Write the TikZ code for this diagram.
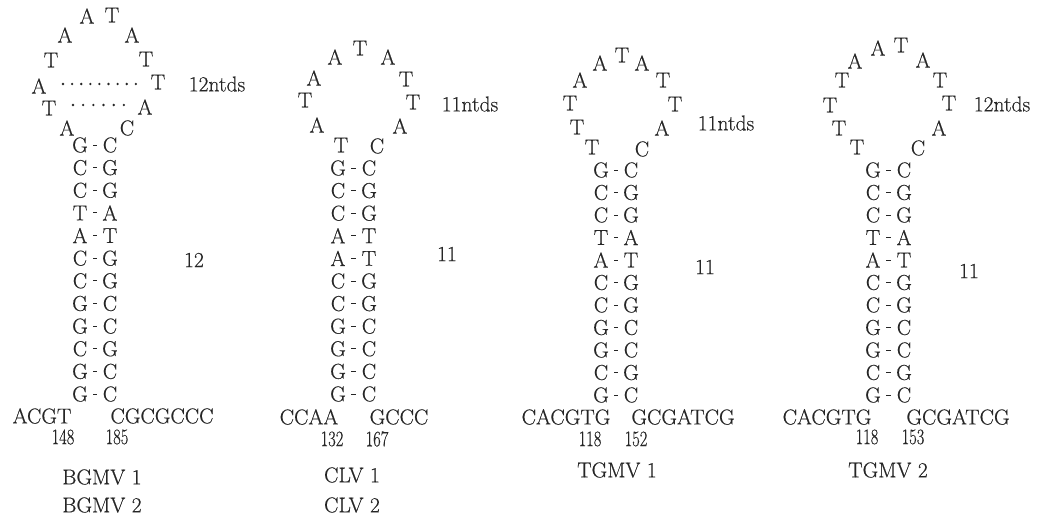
\documentclass[tikz,border=0pt]{standalone}
\usepackage{fontspec}
\newfontfamily\dnafont{Latin Modern Roman}[FakeBold=0.5]
\usetikzlibrary{calc}
\definecolor{txt}{HTML}{262626}
\begin{document}
\begin{tikzpicture}[x=1pt,y=-1pt,
  base/.style={inner sep=0pt, text=txt, font=\dnafont\fontsize{21.5}{24}\selectfont},
  numlbl/.style={inner sep=0pt, text=txt, font=\dnafont\fontsize{22}{24}\selectfont},
  pairdash/.style={draw=txt, line width=1pt, shorten <=13pt, shorten >=13pt},
  dotpair/.style={draw=txt, line width=2.6pt, line cap=round}]
\useasboundingbox (0,0) rectangle (1047,519);

% ---------------- BGMV ----------------
\foreach \x/\y/\t [count=\i] in {87/16/A, 112/15/T, 65/35/A, 132/35/A, 51/60/T, 146/59/T,
   39/86/A, 158/82/T, 49/108/T, 145/107/A, 67/128/A, 127/128/C}
  \node[base] (bL\i) at (\x,\y) {\t};
\draw[dotpair, dash pattern=on 0pt off 9.1pt] ($(bL7.center)+(24,-2)$) -- ($(bL8.center)+(-21.9,2)$);
\draw[dotpair, dash pattern=on 0pt off 10.18pt] ($(bL9.center)+(24,-3)$) -- ($(bL10.center)+(-20.9,-2)$);
\node[base] (bloop) at (217,84) {12ntds};
\foreach \l/\r [count=\i from 0] in {G/C,C/G,C/G,T/A,A/T,C/G,C/G,G/C,G/C,C/G,G/C,G/C}{
  \node[base] (bsl\i) at (80,{145+22.64*\i}) {\l};
  \node[base] (bsr\i) at (110,{145+22.64*\i}) {\r};
  \draw[pairdash] (bsl\i.center) -- (bsr\i.center);
}
\node[base] (bstem) at (194,260) {12};
\node[base] (b5) at (42,416) {ACGT};
\node[base] (b3) at (162,416) {CGCGCCC};
\node[numlbl] (bn1) at (63,437) {\scalebox{0.75}[1]{148}};
\node[numlbl] (bn2) at (117,437) {\scalebox{0.75}[1]{185}};
\node[base] (bname1) at (102,477) {BGMV 1};
\node[base] (bname2) at (102,505) {BGMV 2};

% ---------------- CLV ----------------
\foreach \x/\y/\t [count=\i] in {335/57/A, 360/48/T, 388/57/A, 314/78/A, 406/79/T,
   305/100/T, 413/102/T, 317/125/A, 400/126/A, 341/145/T, 377/146/C}
  \node[base] (cL\i) at (\x,\y) {\t};
\node[base] (cloop) at (470,104) {11ntds};
\foreach \l/\r [count=\i from 0] in {G/C,C/G,C/G,A/T,A/T,C/G,C/G,G/C,G/C,G/C,G/C}{
  \node[base] (csl\i) at (338,{168+22.6*\i}) {\l};
  \node[base] (csr\i) at (369,{168+22.6*\i}) {\r};
  \draw[pairdash] (csl\i.center) -- (csr\i.center);
}
\node[base] (cstem) at (447,254) {11};
\node[base] (c5) at (309,417) {CCAA};
\node[base] (c3) at (399,417) {GCCC};
\node[numlbl] (cn1) at (332,439) {\scalebox{0.75}[1]{132}};
\node[numlbl] (cn2) at (377,439) {\scalebox{0.75}[1]{167}};
\node[base] (cname1) at (352,475) {CLV 1};
\node[base] (cname2) at (352,505) {CLV 2};

% ---------------- TGMV 1 ----------------
\foreach \x/\y/\t [count=\i] in {600/63/A, 622/55/T, 642/63/A, 580/80/A, 663/80/T,
   570/103/T, 675/104/T, 577/127/T, 662/128/A, 592/147/T, 642/149/C}
  \node[base] (tL\i) at (\x,\y) {\t};
\node[base] (tloop) at (726,123) {11ntds};
\foreach \l/\r [count=\i from 0] in {G/C,C/G,C/G,T/A,A/T,C/G,C/G,G/C,G/C,C/G,G/C}{
  \node[base] (tsl\i) at (601,{170+22.5*\i}) {\l};
  \node[base] (tsr\i) at (631,{170+22.5*\i}) {\r};
  \draw[pairdash] (tsl\i.center) -- (tsr\i.center);
}
\node[base] (tstem) at (705,267) {11};
\node[base] (t5) at (566,417) {CACGTG};
\node[base] (t3) at (683,417) {GCGATCG};
\node[numlbl] (tn1) at (590,439) {\scalebox{0.75}[1]{118}};
\node[numlbl] (tn2) at (636,439) {\scalebox{0.75}[1]{152}};
\node[base] (tname) at (617,470) {TGMV 1};

% ---------------- TGMV 2 ----------------
\foreach \x/\y/\t [count=\i] in {878/48/A, 901/45/T, 855/61/A, 923/60/A, 842/80/T, 940/80/T,
   830/105/T, 949/103/T, 839/128/T, 939/128/A, 857/147/T, 918/148/C}
  \node[base] (uL\i) at (\x,\y) {\t};
\node[base] (uloop) at (1002,104) {12ntds};
\foreach \l/\r [count=\i from 0] in {G/C,C/G,C/G,T/A,A/T,C/G,C/G,G/C,G/C,C/G,G/C}{
  \node[base] (usl\i) at (873,{170+22.5*\i}) {\l};
  \node[base] (usr\i) at (904,{170+22.5*\i}) {\r};
  \draw[pairdash] (usl\i.center) -- (usr\i.center);
}
\node[base] (ustem) at (969,271) {11};
\node[base] (u5) at (827,417) {CACGTG};
\node[base] (u3) at (958,417) {GCGATCG};
\node[numlbl] (un1) at (867,437) {\scalebox{0.75}[1]{118}};
\node[numlbl] (un2) at (913,437) {\scalebox{0.75}[1]{153}};
\node[base] (uname) at (888,470) {TGMV 2};
\end{tikzpicture}
\end{document}
